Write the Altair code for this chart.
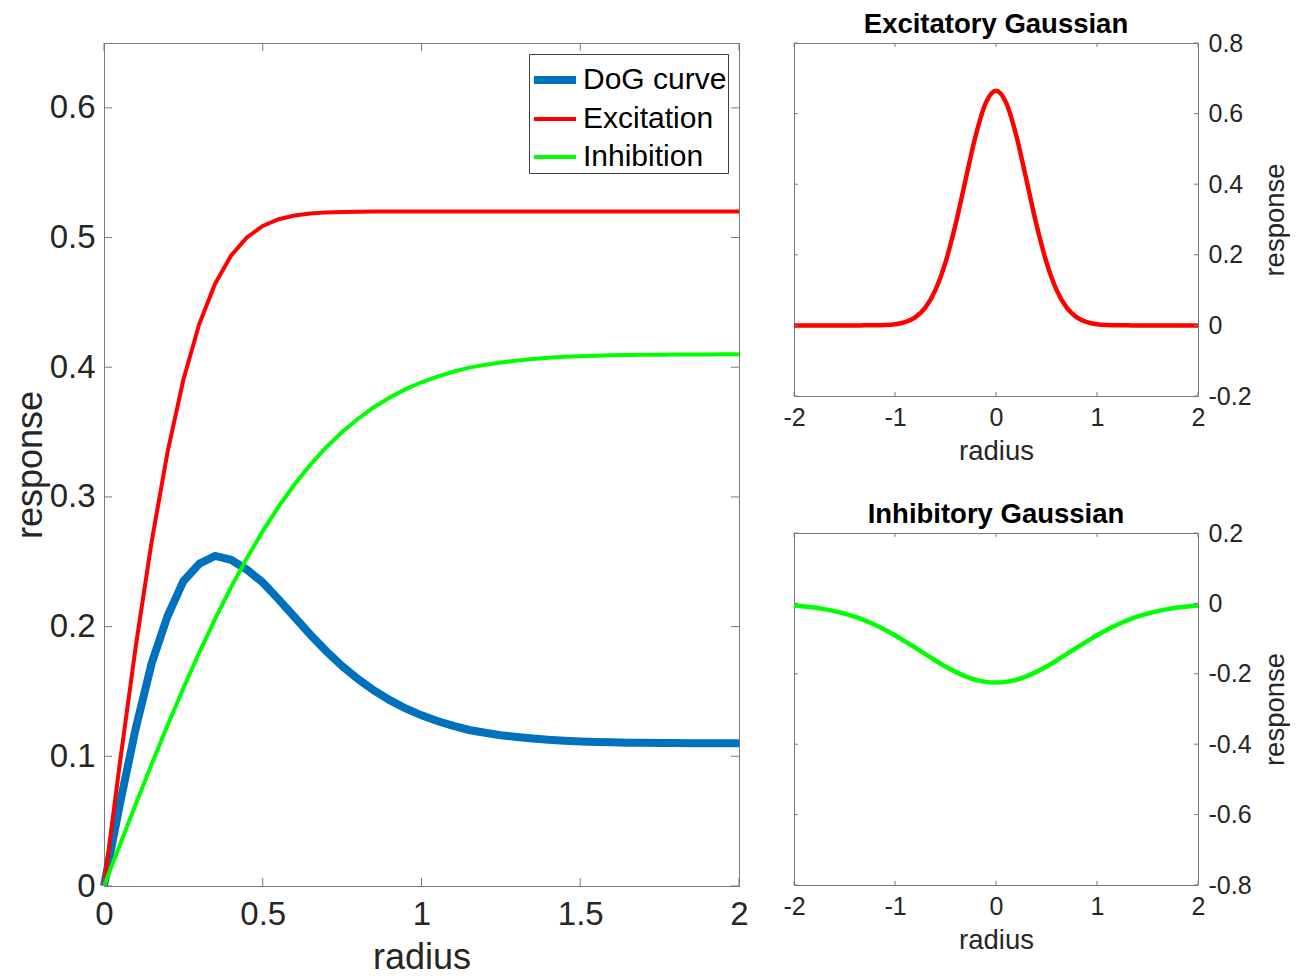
import altair as alt
import pandas as pd

# ---------------- data ----------------
radius = [0.0, 0.05, 0.1, 0.15, 0.2, 0.25, 0.3, 0.35, 0.4, 0.45, 0.5, 0.55, 0.6, 0.65, 0.7,
          0.75, 0.8, 0.85, 0.9, 0.95, 1.0, 1.05, 1.1, 1.15, 1.2, 1.25, 1.3, 1.35, 1.4, 1.45,
          1.5, 1.55, 1.6, 1.65, 1.7, 1.75, 1.8, 1.85, 1.9, 1.95, 2.0]

dog_curve = [0.0, 0.0632, 0.1216, 0.1716, 0.2080, 0.2350, 0.2485, 0.2545, 0.2515, 0.2440,
             0.2340, 0.2210, 0.2074, 0.1937, 0.1811, 0.1696, 0.1596, 0.1508, 0.1433, 0.1369,
             0.1316, 0.1272, 0.1235, 0.1203, 0.1182, 0.1163, 0.1149, 0.1137, 0.1127, 0.1120,
             0.1115, 0.1111, 0.1108, 0.1105, 0.1104, 0.1103, 0.1102, 0.1101, 0.1101, 0.1100,
             0.1100]

excitation = [0.0, 0.0948, 0.1846, 0.2654, 0.3344, 0.3903, 0.4333, 0.4644, 0.4860, 0.5001,
              0.5089, 0.5141, 0.5170, 0.5185, 0.5194, 0.5197, 0.5199, 0.5200, 0.5200, 0.5200,
              0.5200, 0.5200, 0.5200, 0.5200, 0.5200, 0.5200, 0.5200, 0.5200, 0.5200, 0.5200,
              0.5200, 0.5200, 0.5200, 0.5200, 0.5200, 0.5200, 0.5200, 0.5200, 0.5200, 0.5200,
              0.5200]

inhibition = [0.0, 0.0316, 0.0630, 0.0938, 0.1237, 0.1525, 0.1800, 0.2059, 0.2303, 0.2528,
              0.2736, 0.2925, 0.3096, 0.3248, 0.3383, 0.3501, 0.3603, 0.3692, 0.3767, 0.3831,
              0.3884, 0.3928, 0.3965, 0.3997, 0.4018, 0.4037, 0.4051, 0.4063, 0.4073, 0.4080,
              0.4085, 0.4089, 0.4092, 0.4095, 0.4096, 0.4097, 0.4098, 0.4099, 0.4099, 0.4100,
              0.4100]

x_gauss = [-2.0, -1.9, -1.8, -1.7, -1.6, -1.5, -1.4, -1.3, -1.2, -1.1, -1.0, -0.9, -0.8, -0.7,
           -0.6, -0.5, -0.4, -0.3, -0.2, -0.1, 0.0, 0.1, 0.2, 0.3, 0.4, 0.5, 0.6, 0.7, 0.8,
           0.9, 1.0, 1.1, 1.2, 1.3, 1.4, 1.5, 1.6, 1.7, 1.8, 1.9, 2.0]

excitatory_gaussian = [0.0, 0.0, 0.0, 0.0, 0.0, 0.0, 0.0, 0.0001, 0.0003, 0.0011, 0.0034,
                       0.0094, 0.0229, 0.0504, 0.1000, 0.1784, 0.2865, 0.4141, 0.5388, 0.6309,
                       0.6650,
                       0.6309, 0.5388, 0.4141, 0.2865, 0.1784, 0.1000, 0.0504, 0.0229, 0.0094,
                       0.0034, 0.0011, 0.0003, 0.0001, 0.0, 0.0, 0.0, 0.0, 0.0, 0.0, 0.0]

inhibitory_gaussian = [-0.0059, -0.0085, -0.0118, -0.0163, -0.0220, -0.0291, -0.0379, -0.0484,
                       -0.0608, -0.0749, -0.0907, -0.1078, -0.1258, -0.1441, -0.1622, -0.1793,
                       -0.1945, -0.2073, -0.2170, -0.2230, -0.2250,
                       -0.2230, -0.2170, -0.2073, -0.1945, -0.1793, -0.1622, -0.1441, -0.1258,
                       -0.1078, -0.0907, -0.0749, -0.0608, -0.0484, -0.0379, -0.0291, -0.0220,
                       -0.0163, -0.0118, -0.0085, -0.0059]

series_names = ["DoG curve", "Excitation", "Inhibition"]
series_colors = ["#0072BD", "#FF0000", "#00FF00"]
series_widths = [8, 4, 4]

main_xticks = [0, 0.5, 1, 1.5, 2]
main_yticks = [0, 0.1, 0.2, 0.3, 0.4, 0.5, 0.6]
gauss_xticks = [-2, -1, 0, 1, 2]
exc_yticks = [-0.2, 0, 0.2, 0.4, 0.6, 0.8]
inh_yticks = [-0.8, -0.6, -0.4, -0.2, 0, 0.2]

# ---------------- style ----------------
FONT = "Liberation Sans"
LBL = "#262626"
BOX = "#7a7a7a"
LABEL_EXPR = "'' + datum.value"

main_df = pd.DataFrame({
    "radius": radius * 3,
    "response": dog_curve + excitation + inhibition,
    "series": [series_names[0]] * len(radius) + [series_names[1]] * len(radius)
              + [series_names[2]] * len(radius),
})
exc_df = pd.DataFrame({"radius": x_gauss, "response": excitatory_gaussian})
inh_df = pd.DataFrame({"radius": x_gauss, "response": inhibitory_gaussian})


def tick_layers(xticks, yticks, xscale, yscale, xaxis, yaxis, xtitle, ytitle, W, H, tl):
    """Inward tick marks on all four sides, positioned through the shared scales."""
    ydf = pd.DataFrame({"v": yticks})
    xdf = pd.DataFrame({"v": xticks})
    yl = alt.Chart(ydf).mark_rule(color=BOX, strokeWidth=1)
    xl = alt.Chart(xdf).mark_rule(color=BOX, strokeWidth=1)
    yenc = alt.Y("v:Q", scale=yscale, axis=yaxis, title=ytitle)
    xenc = alt.X("v:Q", scale=xscale, axis=xaxis, title=xtitle)
    return [
        yl.encode(y=yenc, x=alt.value(0), x2=alt.value(tl)),
        yl.encode(y=yenc, x=alt.value(W), x2=alt.value(W - tl)),
        xl.encode(x=xenc, y=alt.value(H), y2=alt.value(H - tl)),
        xl.encode(x=xenc, y=alt.value(0), y2=alt.value(tl)),
    ]


# ---------------- main panel ----------------
W1, H1 = 635, 843
xs1 = alt.Scale(domain=[0, 2], nice=False, zero=False)
ys1 = alt.Scale(domain=[0, 0.65], nice=False, zero=False)
xax1 = alt.Axis(values=main_xticks, labelFontSize=33, titleFontSize=36,
                labelPadding=12, titlePadding=9, labelExpr=LABEL_EXPR)
yax1 = alt.Axis(values=main_yticks, labelFontSize=33, titleFontSize=36,
                labelPadding=9, titlePadding=0, labelExpr=LABEL_EXPR)

leg = dict(title=None, orient="top-right", offset=11)

base = alt.Chart(main_df).mark_line().encode(
    x=alt.X("radius:Q", scale=xs1, title="radius", axis=xax1),
    y=alt.Y("response:Q", scale=ys1, title="response", axis=yax1),
    color=alt.Color("series:N", scale=alt.Scale(domain=series_names, range=series_colors),
                    legend=alt.Legend(**leg)),
    strokeWidth=alt.StrokeWidth("series:N",
                                scale=alt.Scale(type="ordinal", domain=series_names,
                                                range=series_widths),
                                legend=alt.Legend(**leg)),
)
main_lines = [base.transform_filter(alt.datum.series == s) for s in series_names]

main_chart = alt.layer(
    *main_lines,
    *tick_layers(main_xticks, main_yticks, xs1, ys1, xax1, yax1, "radius", "response",
                 W1, H1, 8),
).properties(width=W1, height=H1)

# ---------------- right panels ----------------
W2 = 404
xs2 = alt.Scale(domain=[-2, 2], nice=False, zero=False)
xax2 = alt.Axis(values=gauss_xticks, labelFontSize=25, titleFontSize=27.5,
                labelPadding=9, titlePadding=7, labelExpr=LABEL_EXPR)
title_style = dict(font=FONT, fontSize=27.5, fontWeight="bold", color="#000000", offset=-7)


def gauss_panel(df, color, yticks, ydomain, title, H):
    ys = alt.Scale(domain=ydomain, nice=False, zero=False)
    yax = alt.Axis(values=yticks, orient="right", labelFontSize=25, titleFontSize=27.5,
                   labelPadding=10, titlePadding=10, titleAngle=270, titleBaseline="top",
                   labelExpr=LABEL_EXPR)
    line = alt.Chart(df).mark_line(color=color, strokeWidth=4.5, interpolate="monotone").encode(
        x=alt.X("radius:Q", scale=xs2, title="radius", axis=xax2),
        y=alt.Y("response:Q", scale=ys, title="response", axis=yax),
    )
    return alt.layer(
        line,
        *tick_layers(gauss_xticks, yticks, xs2, ys, xax2, yax, "radius", "response", W2, H, 4),
    ).properties(width=W2, height=H, title=alt.TitleParams(title, **title_style))


exc_chart = gauss_panel(exc_df, "#FF0000", exc_yticks, [-0.2, 0.8], "Excitatory Gaussian", 353)
inh_chart = gauss_panel(inh_df, "#00FF00", inh_yticks, [-0.8, 0.2], "Inhibitory Gaussian", 352)

right = alt.vconcat(exc_chart, inh_chart, spacing=35)

chart = alt.hconcat(main_chart, right, spacing=26).resolve_scale(
    color="independent", strokeWidth="independent"
).resolve_legend(
    color="independent", strokeWidth="independent"
).properties(
    padding={"left": 3, "top": 2, "right": 0, "bottom": 0},
    background="white",
).configure_view(
    stroke=BOX, strokeWidth=1
).configure_title(
    anchor="middle"
).configure_axis(
    ticks=False, domain=False, grid=False, labelFont=FONT, titleFont=FONT,
    labelColor=LBL, titleColor=LBL, titleFontWeight="normal",
    labelFlush=False, labelOverlap=False,
).configure_legend(
    labelFont=FONT, labelFontSize=30, labelColor="#000000", symbolType="stroke",
    symbolSize=1764, labelOffset=3, padding=1, rowPadding=0,
    strokeColor="#404040", fillColor="white",
)

chart.save("out.html", embed_options={"renderer": "svg", "actions": False})
